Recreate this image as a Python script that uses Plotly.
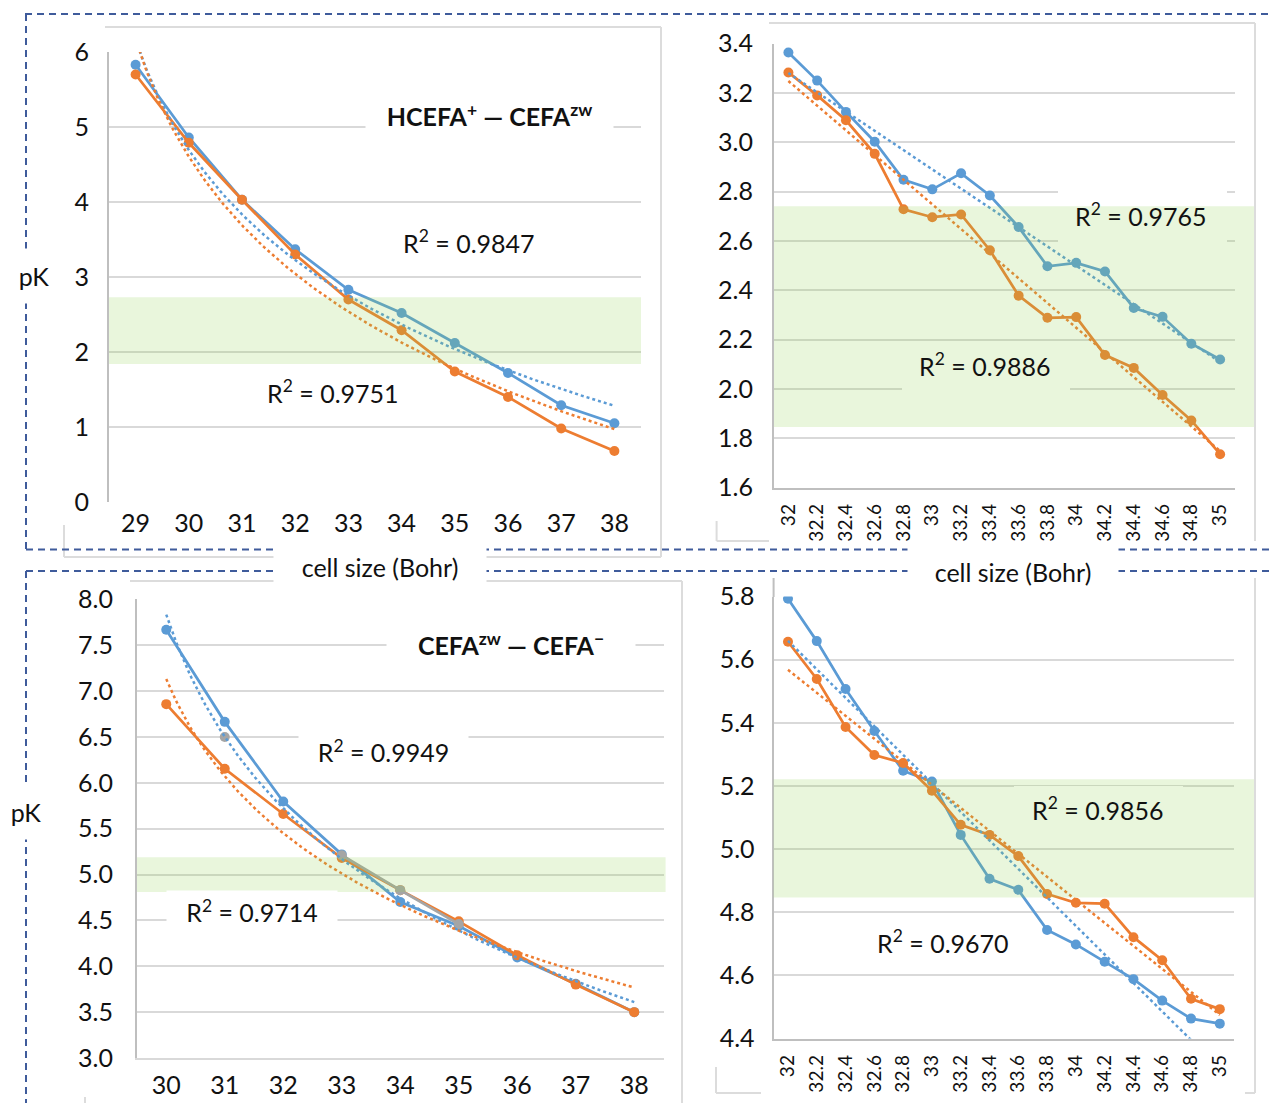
import numpy as np
import plotly.graph_objects as go

W, H = 1272, 1103
FONT = "Lato, 'Open Sans', sans-serif"
BLUE, ORANGE, GRAY = "#5B9BD5", "#ED7D31", "#A5A5A5"
GRID, AXIS, FRAME, DASH = "#D9D9D9", "#BFBFBF", "#DCDCDC", "#3F5B9B"
BAND = "rgba(146,208,80,0.2)"

# ---------------- data ----------------
# top-left: HCEFA+ — CEFAzw, cell size 29..38
cells_a = ["29", "30", "31", "32", "33", "34", "35", "36", "37", "38"]
blue_a = [5.83, 4.86, 4.03, 3.37, 2.83, 2.52, 2.12, 1.72, 1.29, 1.05]
orange_a = [5.70, 4.79, 4.03, 3.30, 2.70, 2.29, 1.74, 1.40, 0.98, 0.68]

# top-right: cell size 32..35 step 0.2
cells_b = ["32", "32.2", "32.4", "32.6", "32.8", "33", "33.2", "33.4", "33.6",
           "33.8", "34", "34.2", "34.4", "34.6", "34.8", "35"]
blue_b = [3.364, 3.25, 3.123, 3.002, 2.848, 2.809, 2.874, 2.784, 2.656,
          2.497, 2.511, 2.476, 2.328, 2.292, 2.183, 2.119]
orange_b = [3.283, 3.19, 3.089, 2.953, 2.728, 2.696, 2.707, 2.562, 2.378,
            2.288, 2.291, 2.137, 2.085, 1.975, 1.872, 1.735]

# bottom-left: CEFAzw — CEFA-, cell size 30..38
cells_c = ["30", "31", "32", "33", "34", "35", "36", "37", "38"]
blue_c = [7.67, 6.665, 5.796, 5.22, 4.70, 4.44, 4.096, 3.81, 3.50]
orange_c = [6.858, 6.154, 5.66, 5.18, 4.83, 4.49, 4.12, 3.80, 3.50]
gray_c = [None, 6.50, None, 5.21, 4.83, 4.46, None, None, None]

# bottom-right: cell size 32..35 step 0.2
cells_d = cells_b
blue_d = [5.793, 5.659, 5.507, 5.374, 5.248, 5.214, 5.045, 4.906, 4.871,
          4.744, 4.698, 4.643, 4.588, 4.520, 4.463, 4.447]
orange_d = [5.657, 5.539, 5.387, 5.298, 5.273, 5.185, 5.077, 5.045, 4.978,
            4.858, 4.830, 4.827, 4.721, 4.648, 4.526, 4.493]

r2_a = ["0.9847", "0.9751"]
r2_b = ["0.9765", "0.9886"]
r2_c = ["0.9949", "0.9714"]
r2_d = ["0.9856", "0.9670"]

band_a = (1.84, 2.73)
band_b = (1.845, 2.74)
band_c = (4.81, 5.19)
band_d = (4.847, 5.221)


def px(x):
    return x / W


def py(y):
    return 1 - y / H


def log_trend(vals):
    v = np.array([np.nan if t is None else t for t in vals], float)
    i = np.arange(1, len(v) + 1)
    m = ~np.isnan(v)
    b, a = np.polyfit(np.log(i[m]), v[m], 1)
    xs = np.linspace(1, len(v), 240)
    return xs - 1, a + b * np.log(xs)


def lin_trend(vals):
    v = np.array(vals, float)
    i = np.arange(1, len(v) + 1)
    b, a = np.polyfit(i, v, 1)
    xs = np.array([1.0, float(len(v))])
    return xs - 1, a + b * xs


panels = [
    dict(ax="", cats=cells_a, series=[(blue_a, BLUE), (orange_a, ORANGE)],
         trend=log_trend, yr=(0, 6), dtick=1, fmt="d", box=(109, 641, 52, 502),
         rot=False, xline=False, xlinecolor=AXIS, ystand=13, xstand=4),
    dict(ax="2", cats=cells_b, series=[(blue_b, BLUE), (orange_b, ORANGE)],
         trend=lin_trend, yr=(1.6, 3.4), dtick=0.2, fmt=".1f", box=(774, 1234.5, 43.6, 487.5),
         rot=True, xline=True, xlinecolor=AXIS, ystand=14, xstand=7),
    dict(ax="3", cats=cells_c, series=[(blue_c, BLUE), (orange_c, ORANGE), (gray_c, GRAY)],
         trend=log_trend, yr=(3, 8), dtick=0.5, fmt=".1f", box=(137, 663.5, 599.4, 1058),
         rot=False, xline=True, xlinecolor=GRID, ystand=17, xstand=4),
    dict(ax="4", cats=cells_d, series=[(blue_d, BLUE), (orange_d, ORANGE)],
         trend=lin_trend, yr=(4.4, 5.8), dtick=0.2, fmt=".1f", box=(773.6, 1234.2, 596.6, 1038.5),
         rot=True, xline=True, xlinecolor=AXIS, ystand=12, xstand=7),
]

fig = go.Figure()
layout_axes = {}
for p in panels:
    xa, ya = "x" + p["ax"], "y" + p["ax"]
    n = len(p["cats"])
    idx = list(range(n))
    for vals, col in p["series"]:
        fig.add_trace(go.Scatter(
            x=idx, y=vals, xaxis=xa, yaxis=ya, mode="lines+markers",
            line=dict(color=col, width=2.75), marker=dict(color=col, size=10),
            connectgaps=False, showlegend=False, hoverinfo="skip"))
    for vals, col in p["series"][:2]:
        tx, ty = p["trend"](vals)
        fig.add_trace(go.Scatter(
            x=tx, y=ty, xaxis=xa, yaxis=ya, mode="lines",
            line=dict(color=col, width=2.5, dash="dot"),
            showlegend=False, hoverinfo="skip"))
    l, r, t, b = p["box"]
    layout_axes["xaxis" + p["ax"]] = dict(
        domain=[px(l), px(r)], range=[-0.5, n - 0.5], anchor=ya,
        tickvals=idx, ticktext=p["cats"], showgrid=False, zeroline=False,
        showline=p["xline"], linecolor=p["xlinecolor"], linewidth=2,
        ticks="", tickangle=-90 if p["rot"] else 0, automargin=False,
        tickfont=dict(family=FONT, size=19 if p["rot"] else 25, color="#111"),
        ticklabelstandoff=p["xstand"], fixedrange=True)
    layout_axes["yaxis" + p["ax"]] = dict(
        domain=[py(b), py(t)], range=list(p["yr"]), anchor=xa,
        dtick=p["dtick"], tick0=p["yr"][0], tickformat=p["fmt"],
        showgrid=True, gridcolor=GRID, gridwidth=1.5, zeroline=False,
        showline=True, linecolor=AXIS, linewidth=2, ticks="", automargin=False,
        tickfont=dict(family=FONT, size=25, color="#111"),
        ticklabelstandoff=p["ystand"], fixedrange=True)

shapes = []


def seg(x0, y0, x1, y1, color, width=2, dash=None, layer="above"):
    ln = dict(color=color, width=width)
    if dash:
        ln["dash"] = dash
    shapes.append(dict(type="line", xref="paper", yref="paper",
                       x0=px(x0), y0=py(y0), x1=px(x1), y1=py(y1), line=ln, layer=layer))


# white boxes (between gridlines and traces) that break gridlines under R2 labels in bands
def whitebox(p, x0, x1, y0, y1):
    l, r, t, b = p["box"]
    n = len(p["cats"])
    lo, hi = p["yr"]
    fx = lambda v: -0.5 + (v - l) / (r - l) * n
    fy = lambda v: lo + (b - v) / (b - t) * (hi - lo)
    shapes.append(dict(type="rect", xref="x" + p["ax"], yref="y" + p["ax"],
                       x0=fx(x0), x1=fx(x1), y0=fy(y1), y1=fy(y0),
                       fillcolor="white", line=dict(width=0), layer="between"))


whitebox(panels[1], 1058, 1227, 190, 245)
whitebox(panels[1], 902, 1070, 341, 391)
whitebox(panels[3], 1014, 1183, 786, 835)

# green bands (semi-transparent overlay)
for band, ax, x0, x1 in [(band_a, "y", 109, 641), (band_b, "y2", 774, 1255),
                         (band_c, "y3", 137, 665.6), (band_d, "y4", 773.6, 1254.6)]:
    shapes.append(dict(type="rect", xref="paper", yref=ax, x0=px(x0), x1=px(x1),
                       y0=band[0], y1=band[1], fillcolor=BAND,
                       line=dict(width=0), layer="above"))

# chart-area frames (light gray)
for s in [(105, 27, 661, 27), (661, 27, 661, 557), (484, 557, 661, 557), (64, 525, 64, 557),
          (64, 557, 274, 557),
          (769, 23, 1255, 23), (1255, 23, 1255, 541), (716.6, 521, 716.6, 541), (716.6, 541, 769, 541),
          (130, 581, 682, 581), (682, 581, 682, 1103), (85, 1097, 85, 1103),
          (1255, 578, 1255, 1093), (1245, 1093, 1255, 1093), (716, 1067, 716, 1093), (716, 1093, 761, 1093)]:
    seg(*s, color=FRAME)
seg(773.6, 578, 773.6, 597, color=AXIS)

# dashed blue group borders
for s in [(25, 14, 1272, 14), (26, 14, 26, 549.5), (26, 549.5, 1272, 549.5),
          (26, 571, 1272, 571), (26, 571, 26, 1103)]:
    seg(*s, color=DASH, width=2, dash="7px,5px")

ann = []


def text(x, y, s, size=25, bold=False, bg=None, w=None, h=None):
    a = dict(xref="paper", yref="paper", x=px(x), y=py(y), xanchor="center", yanchor="middle",
             text="<b>%s</b>" % s if bold else s, showarrow=False,
             font=dict(family=FONT, size=size, color="#111"), borderpad=0)
    if bg:
        a.update(bgcolor=bg, width=w, height=h)
    ann.append(a)


R2 = "R<sup>2</sup> = %s"
text(489, 115, "HCEFA<sup>+</sup> — CEFA<sup>zw</sup>", bold=True, bg="white", w=247, h=40)
text(511, 644, "CEFA<sup>zw</sup> — CEFA<sup>−</sup>", bold=True, bg="white", w=248, h=40)
text(469, 241, R2 % r2_a[0])
text(333, 391, R2 % r2_a[1])
text(1141, 214, R2 % r2_b[0])
text(985, 364, R2 % r2_b[1])
text(383, 751, R2 % r2_c[0], bg="white", w=169, h=40)
text(252, 911, R2 % r2_c[1], bg="white", w=170, h=40)
text(1098, 808, R2 % r2_d[0])
text(943, 941, R2 % r2_d[1])
text(380, 567, "cell size (Bohr)", bg="white", w=212, h=44)
text(1013, 572, "cell size (Bohr)", bg="white", w=210, h=56)
text(34, 276, "pK", bg="white", w=44, h=54)
text(26, 812, "pK", bg="white", w=44, h=54)

fig.update_layout(
    width=W, height=H, margin=dict(l=0, r=0, t=0, b=0, autoexpand=False),
    paper_bgcolor="white", plot_bgcolor="white", showlegend=False,
    shapes=shapes, annotations=ann, font=dict(family=FONT, color="#111"),
    **layout_axes)

fig.write_html("out.html", config={"displayModeBar": False},
               post_script="document.body.style.margin='0';")
